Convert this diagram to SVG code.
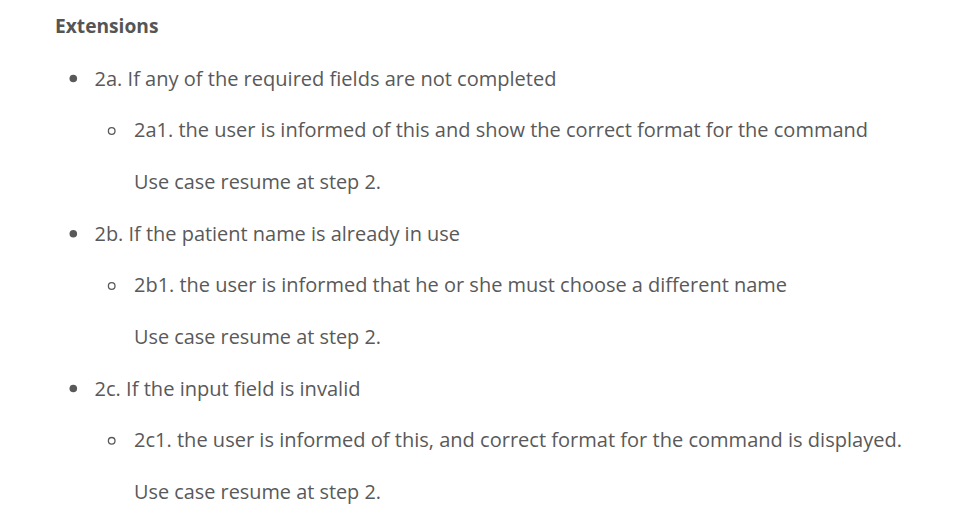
<svg xmlns="http://www.w3.org/2000/svg" width="968" height="527" viewBox="0 0 968 527">
<style>
text{font-family:"Open Sans","Noto Sans","Liberation Sans",sans-serif;font-size:19.5px;fill:#595959}
.h{font-weight:bold;fill:#555555}
.dot{fill:#595959}
.ring{fill:none;stroke:#595959;stroke-width:1.3}
</style>
<rect width="968" height="527" fill="#ffffff"/>
<text class="h" x="55" y="33.3" textLength="103.5" lengthAdjust="spacingAndGlyphs">Extensions</text>
<g id="ext-2a">
<circle class="dot" cx="73.3" cy="78.5" r="3.8"/>
<text x="94.5" y="85.6" textLength="462" lengthAdjust="spacingAndGlyphs">2a. If any of the required fields are not completed</text>
<circle class="ring" cx="111.7" cy="131" r="3.3"/>
<text x="134" y="137.3" textLength="734" lengthAdjust="spacingAndGlyphs">2a1. the user is informed of this and show the correct format for the command</text>
<text x="134" y="188.6" textLength="247" lengthAdjust="spacingAndGlyphs">Use case resume at step 2.</text>
</g>
<g id="ext-2b">
<circle class="dot" cx="73.3" cy="233.7" r="3.8"/>
<text x="94.5" y="240.7" textLength="365.5" lengthAdjust="spacingAndGlyphs">2b. If the patient name is already in use</text>
<circle class="ring" cx="111.7" cy="286" r="3.3"/>
<text x="134" y="292.3" textLength="653" lengthAdjust="spacingAndGlyphs">2b1. the user is informed that he or she must choose a different name</text>
<text x="134" y="343.6" textLength="247" lengthAdjust="spacingAndGlyphs">Use case resume at step 2.</text>
</g>
<g id="ext-2c">
<circle class="dot" cx="73.3" cy="388.5" r="3.8"/>
<text x="94.5" y="395.6" textLength="266" lengthAdjust="spacingAndGlyphs">2c. If the input field is invalid</text>
<circle class="ring" cx="111.7" cy="440.8" r="3.3"/>
<text x="134" y="447.2" textLength="768" lengthAdjust="spacingAndGlyphs">2c1. the user is informed of this, and correct format for the command is displayed.</text>
<text x="134" y="498.5" textLength="247" lengthAdjust="spacingAndGlyphs">Use case resume at step 2.</text>
</g>
</svg>
